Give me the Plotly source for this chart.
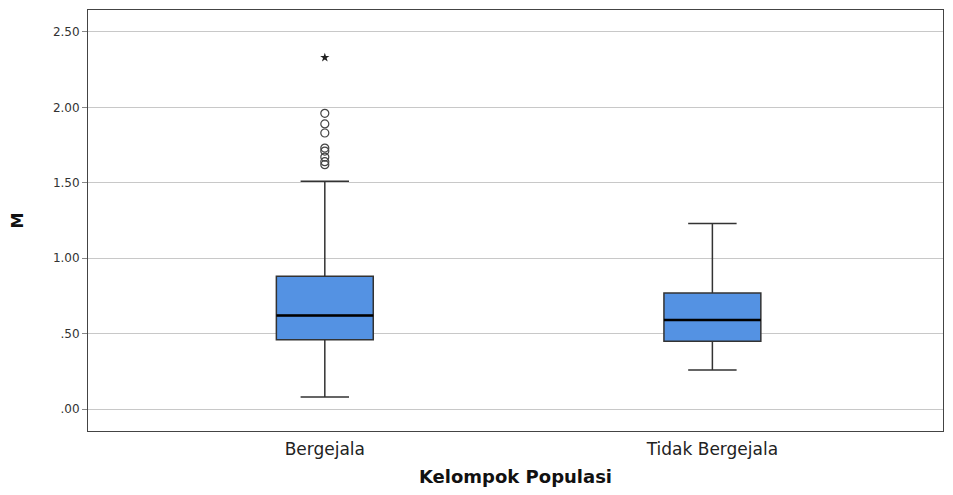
import plotly.graph_objects as go

# ---- data ----
categories = ["Bergejala", "Tidak Bergejala"]
q1 = [0.46, 0.45]
median = [0.62, 0.59]
q3 = [0.88, 0.77]
lower_whisker = [0.08, 0.26]
upper_whisker = [1.51, 1.23]
outliers_bergejala = [1.96, 1.89, 1.83, 1.73, 1.71, 1.67, 1.64, 1.62]
extremes_bergejala = [2.33]
y_tick_vals = [0.0, 0.5, 1.0, 1.5, 2.0, 2.5]
y_tick_text = [".00", ".50", "1.00", "1.50", "2.00", "2.50"]

# ---- style ----
BOX_W = 0.25
FILL = "#5492E3"
LINE = "#333333"
FONT = "DejaVu Sans"

fig = go.Figure()
xs = list(range(len(categories)))
for i in xs:
    fig.add_trace(go.Box(
        x=[i], q1=[q1[i]], median=[median[i]], q3=[q3[i]],
        lowerfence=[lower_whisker[i]], upperfence=[upper_whisker[i]],
        width=BOX_W, whiskerwidth=0.5, boxpoints=False,
        fillcolor=FILL, line=dict(color=LINE, width=1.5),
        showlegend=False, hoverinfo="skip",
    ))
    # thicker median line
    fig.add_trace(go.Scatter(
        x=[i - BOX_W / 2, i + BOX_W / 2], y=[median[i], median[i]],
        mode="lines", line=dict(color="#000000", width=2.5),
        showlegend=False, hoverinfo="skip",
    ))

fig.add_trace(go.Scatter(
    x=[0] * len(outliers_bergejala), y=outliers_bergejala, mode="markers",
    marker=dict(symbol="circle-open", size=8, color="#444444", line=dict(width=1.2)),
    showlegend=False,
))
fig.add_trace(go.Scatter(
    x=[0] * len(extremes_bergejala), y=extremes_bergejala, mode="markers",
    marker=dict(symbol="star", size=7, color="#222222", line=dict(width=0)),
    showlegend=False,
))

fig.update_layout(
    width=937, height=479,
    margin=dict(l=80, r=1, t=1, b=52),
    plot_bgcolor="white", paper_bgcolor="white",
    font=dict(family=FONT, color="#222222"),
    xaxis=dict(
        range=[-0.611, 1.595], tickvals=xs, ticktext=categories,
        showgrid=False, zeroline=False,
        showline=True, linecolor="#444444", linewidth=1, mirror=True,
        tickfont=dict(family=FONT, size=17, color="#222222"),
        ticks="", ticklabelstandoff=3,
        title=dict(text="<b>Kelompok Populasi</b>", font=dict(family=FONT, size=18, color="#111111"), standoff=14),
    ),
    yaxis=dict(
        range=[-0.145, 2.645], tickvals=y_tick_vals, ticktext=y_tick_text,
        showgrid=True, gridcolor="#c8c8c8", gridwidth=1, zeroline=False,
        showline=True, linecolor="#444444", linewidth=1, mirror=True,
        ticks="outside", ticklen=5, tickcolor="#888888",
        tickfont=dict(family=FONT, size=12, color="#333333"),
        title=dict(text="<b>M</b>", font=dict(family=FONT, size=16, color="#111111"), standoff=31),
    ),
)

fig.write_html("out.html")
